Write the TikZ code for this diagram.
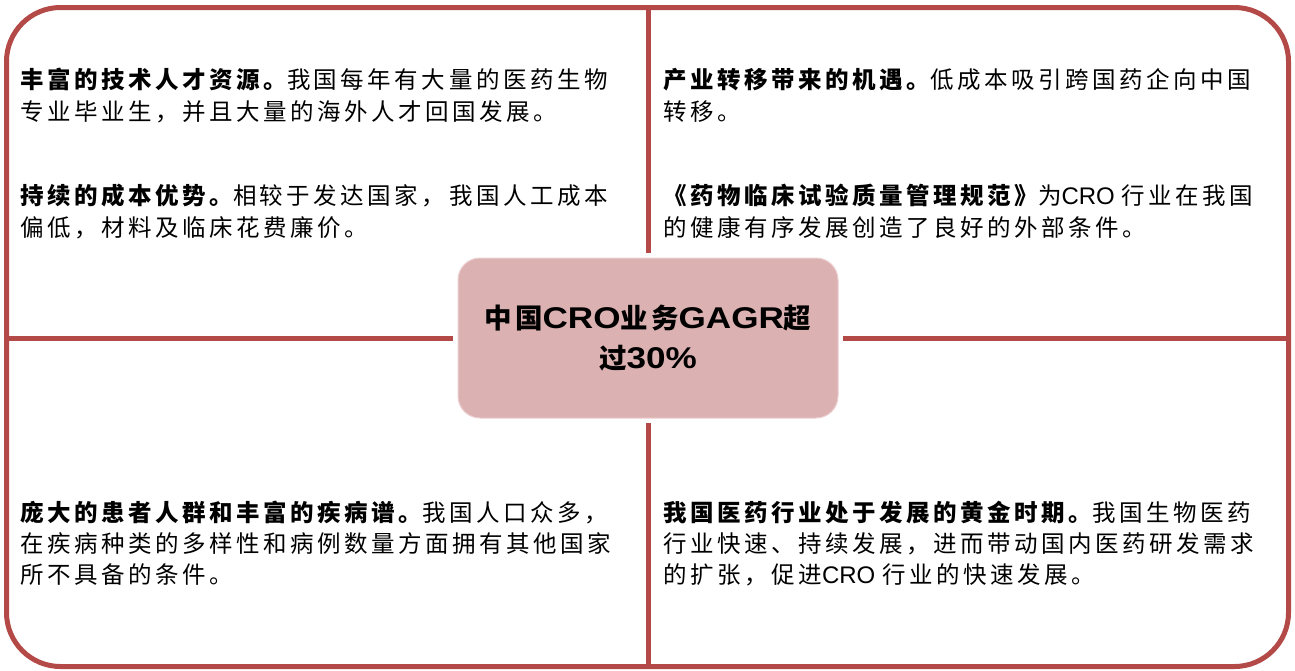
\documentclass[tikz,border=0pt]{standalone}
\usepackage{fontspec}
\setmainfont{Liberation Sans}
\newfontfamily\cjk[LetterSpace=14.9]{Noto Sans CJK SC}
\newfontfamily\cjkc[LetterSpace=11]{Noto Sans CJK SC}
\newfontfamily\latb[FakeStretch=1.17]{Liberation Sans}
\definecolor{framered}{HTML}{B44A47}
\definecolor{hubfill}{HTML}{DCB1B1}
\definecolor{hubline}{HTML}{EBCFCF}
\newcommand\Bd[1]{{\bfseries #1}}
\newcommand\LatinTxt[1]{{\fontsize{24}{32}\selectfont\rmfamily #1}}
\newcommand\HubLat[1]{{\fontsize{30}{40}\selectfont\latb\bfseries #1}}
\tikzset{
  frame/.style={draw=framered, line width=5pt, rounded corners=54pt},
  divider/.style={draw=framered, line width=5pt},
  txt/.style={anchor=base west, inner sep=0pt, outer sep=0pt, font=\fontsize{23.5}{32}\selectfont\cjk},
  hubbox/.style={fill=hubfill, draw=hubline, line width=1pt, rounded corners=22pt,
    minimum width=380pt, minimum height=160pt, inner sep=0pt, outer sep=0pt,
    align=center, font=\fontsize{27.5}{40}\selectfont\cjkc\bfseries}
}
\begin{document}
\begin{tikzpicture}[x=1pt,y=-1pt]
\useasboundingbox (0,0) rectangle (1295,670);
% central node
\node[hubbox] (hub) at (648,338) {中国\HubLat{CRO}业务\HubLat{GAGR}超\\过\HubLat{30\%}};
% frame ends
\coordinate (ftop) at (648,7.5);
\coordinate (fbot) at (648,666.5);
\coordinate (fleft) at (6.5,338);
\coordinate (fright) at (1288.5,338);
\draw[divider] (ftop) -- ([yshift=5pt]hub.north);
\draw[divider] ([yshift=-5pt]hub.south) -- (fbot);
\draw[divider] (fleft) -- ([xshift=-5pt]hub.west);
\draw[divider] ([xshift=5pt]hub.east) -- (fright);
\draw[frame] (6.5,7.5) rectangle (1288.5,666.5);
% top-left
\node[txt] (l1a) at (20.5,88.5) {\Bd{丰富的技术人才资源。}我国每年有大量的医药生物};
\node[txt] (l1b) at (20.5,120.5) {专业毕业生，并且大量的海外人才回国发展。};
\node[txt] (l2a) at (20.5,204.5) {\Bd{持续的成本优势。}相较于发达国家，我国人工成本};
\node[txt] (l2b) at (20.5,236.5) {偏低，材料及临床花费廉价。};
% top-right
\node[txt] (r1a) at (663.5,88.5) {\Bd{产业转移带来的机遇。}低成本吸引跨国药企向中国};
\node[txt] (r1b) at (663.5,120.5) {转移。};
\node[txt] (r2a) at (663.5,204.5) {\Bd{《药物临床试验质量管理规范》}为\LatinTxt{CRO }行业在我国};
\node[txt] (r2b) at (663.5,236.5) {的健康有序发展创造了良好的外部条件。};
% bottom-left
\node[txt] (l3a) at (20.5,521) {\Bd{庞大的患者人群和丰富的疾病谱。}我国人口众多，};
\node[txt] (l3b) at (20.5,552) {在疾病种类的多样性和病例数量方面拥有其他国家};
\node[txt] (l3c) at (20.5,583) {所不具备的条件。};
% bottom-right
\node[txt] (r3a) at (663.5,521) {\Bd{我国医药行业处于发展的黄金时期。}我国生物医药};
\node[txt] (r3b) at (663.5,552) {行业快速、持续发展，进而带动国内医药研发需求};
\node[txt] (r3c) at (663.5,583) {的扩张，促进\LatinTxt{CRO }行业的快速发展。};
\end{tikzpicture}
\end{document}
